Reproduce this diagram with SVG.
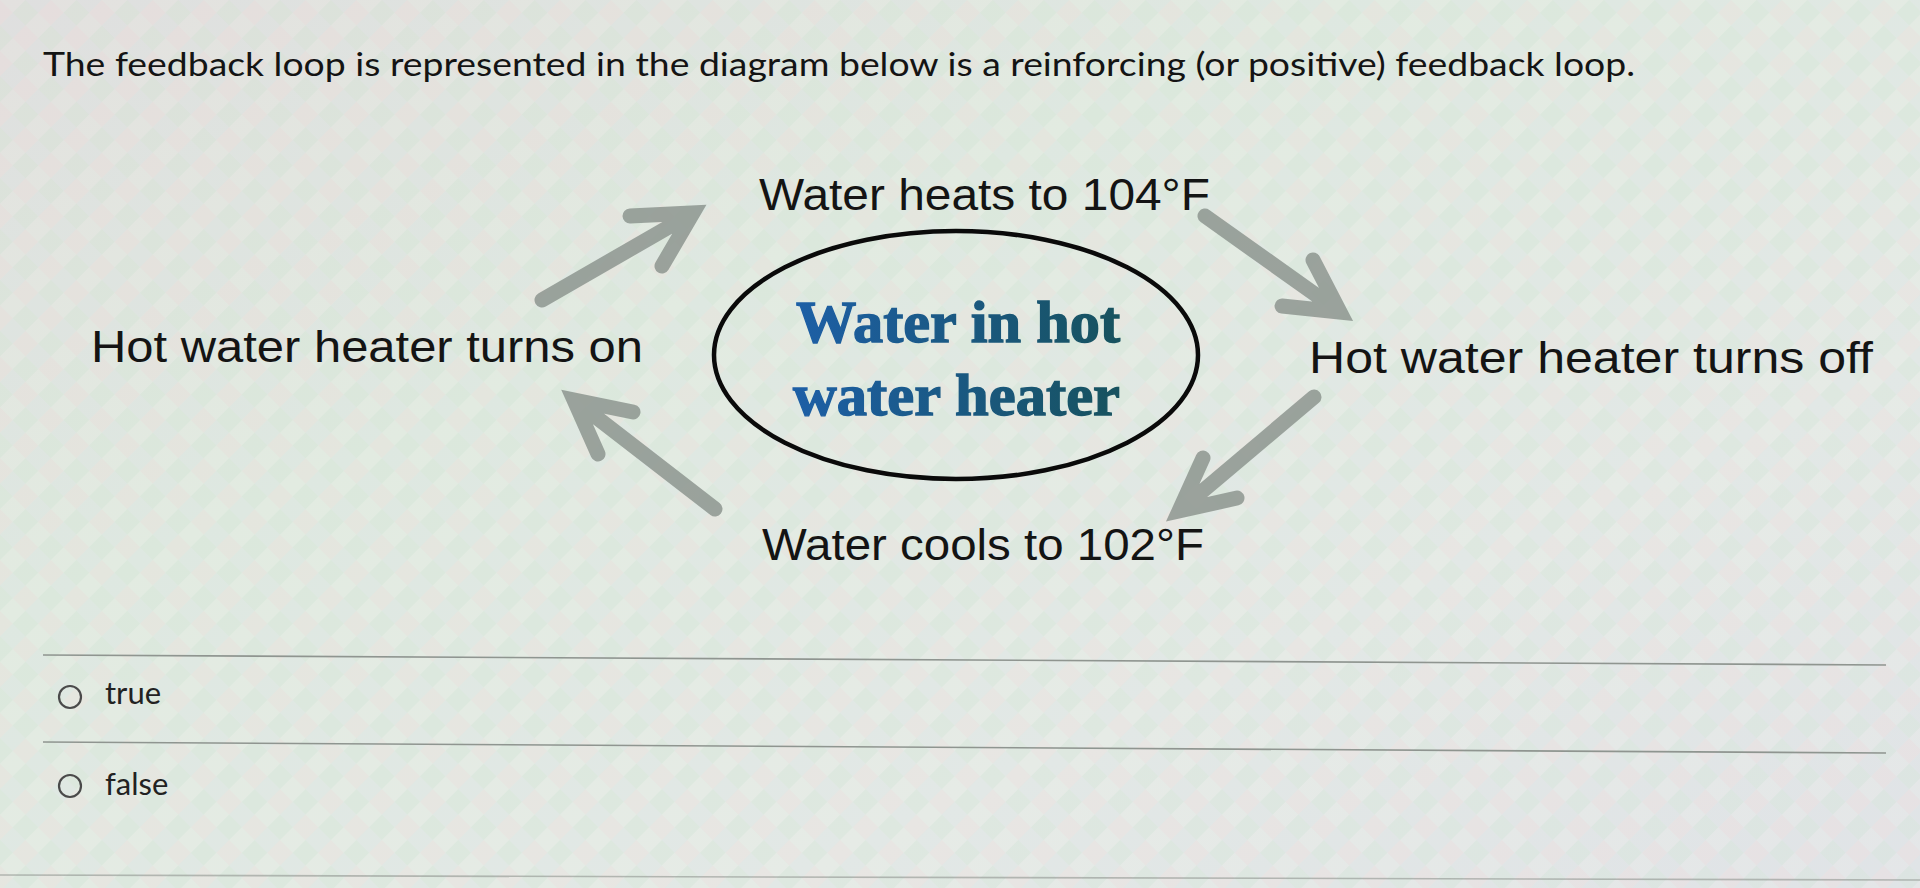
<svg xmlns="http://www.w3.org/2000/svg" width="1920" height="888" viewBox="0 0 1920 888">
  <defs>
    <linearGradient id="bg" x1="0" y1="0" x2="1" y2="1">
      <stop offset="0" stop-color="#e3e1df"/>
      <stop offset="0.35" stop-color="#e2ebe1"/>
      <stop offset="0.7" stop-color="#e6ebe6"/>
      <stop offset="1" stop-color="#e4e6e8"/>
    </linearGradient>
    <pattern id="moire" width="36" height="36" patternUnits="userSpaceOnUse" patternTransform="rotate(45)">
      <rect x="0" y="0" width="18" height="18" fill="#f0c8d0" opacity="0.14"/>
      <rect x="18" y="18" width="18" height="18" fill="#b8d8c0" opacity="0.16"/>
      <rect x="18" y="0" width="18" height="18" fill="#c0cfe8" opacity="0.1"/>
    </pattern>
    <linearGradient id="ink" x1="0" y1="0" x2="1" y2="0">
      <stop offset="0" stop-color="#1d5fa6"/>
      <stop offset="1" stop-color="#17525e"/>
    </linearGradient>
    <style>
      .title { font-family: Lato, "Liberation Sans", sans-serif; font-size: 33px; fill: #141414; }
      .lbl { font-family: "Liberation Sans", Arial, sans-serif; font-size: 45px; fill: #141414; }
      .center { font-family: "Liberation Serif", "Times New Roman", serif; font-weight: bold; font-size: 60px; fill: url(#ink); stroke: url(#ink); stroke-width: 1.4; }
      .opt { font-family: Lato, "Liberation Sans", sans-serif; font-size: 31px; fill: #222; }
      .arrow { fill: none; stroke: #8d958f; stroke-width: 15; stroke-linecap: round; stroke-linejoin: miter; opacity: 0.85; }
      .rule { stroke: #8f9590; stroke-width: 1.6; fill: none; }
      .radio { fill: none; stroke: #4a4a4a; stroke-width: 2.2; }
    </style>
  </defs>

  <rect x="0" y="0" width="1920" height="888" fill="url(#bg)"/>
  <rect x="0" y="0" width="1920" height="888" fill="url(#moire)"/>

  <text id="title" class="title" x="43" y="76" textLength="1592" lengthAdjust="spacingAndGlyphs">The feedback loop is represented in the diagram below is a reinforcing (or positive) feedback loop.</text>

  <g id="center-node">
    <ellipse cx="956" cy="355" rx="242" ry="124" fill="none" stroke="#0a0a0a" stroke-width="4.5"/>
    <text class="center" x="796" y="342" textLength="324" lengthAdjust="spacingAndGlyphs">Water in hot</text>
    <text class="center" x="793" y="415" textLength="327" lengthAdjust="spacingAndGlyphs">water heater</text>
  </g>

  <g id="node-heats">
    <text class="lbl" x="759" y="210" textLength="451" lengthAdjust="spacingAndGlyphs">Water heats to 104°F</text>
  </g>
  <g id="node-off">
    <text class="lbl" x="1309" y="373" textLength="564" lengthAdjust="spacingAndGlyphs">Hot water heater turns off</text>
  </g>
  <g id="node-cools">
    <text class="lbl" x="762" y="560" textLength="442" lengthAdjust="spacingAndGlyphs">Water cools to 102°F</text>
  </g>
  <g id="node-on">
    <text class="lbl" x="91" y="362" textLength="552" lengthAdjust="spacingAndGlyphs">Hot water heater turns on</text>
  </g>

  <g id="connectors">
    <path class="arrow" d="M542 300 L693 213 M630 216 L693 213 L662 266"/>
    <path class="arrow" d="M1205 216 L1340 312 M1313 260 L1340 312 L1282 306"/>
    <path class="arrow" d="M1314 397 L1179 511 M1203 458 L1179 511 L1237 498"/>
    <path class="arrow" d="M715 509 L574 400 M633 412 L574 400 L598 454"/>
  </g>

  <g id="answers">
    <line class="rule" x1="43" y1="655" x2="1886" y2="665"/>
    <circle class="radio" cx="70" cy="697" r="11"/>
    <text class="opt" x="105" y="704">true</text>
    <line class="rule" x1="43" y1="742" x2="1886" y2="753"/>
    <circle class="radio" cx="70" cy="786" r="11"/>
    <text class="opt" x="105" y="795">false</text>
    <line class="rule" x1="0" y1="875" x2="1920" y2="880" opacity="0.6"/>
  </g>
</svg>
